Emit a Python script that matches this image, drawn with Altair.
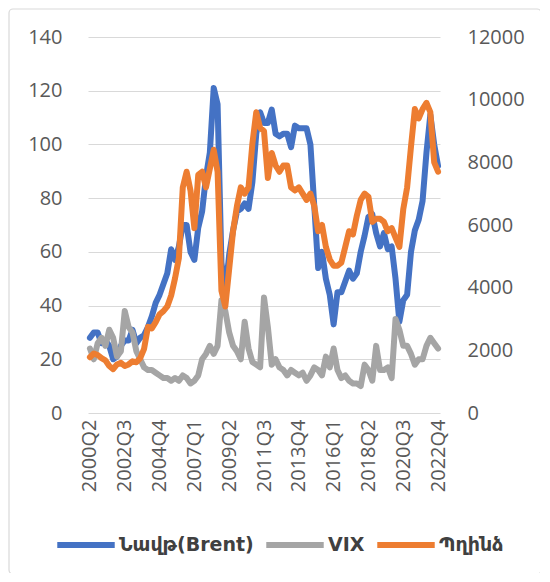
import altair as alt
import pandas as pd

# Categories: quarters 2000Q2 .. 2022Q4
quarters = [f"{y}Q{q}" for y in range(2000, 2023) for q in range(1, 5)][1:]
tick_labels = ["2000Q2", "2002Q3", "2004Q4", "2007Q1", "2009Q2", "2011Q3",
               "2013Q4", "2016Q1", "2018Q2", "2020Q3", "2022Q4"]

series_names = ["Նավթ(Brent)", "VIX", "Պղինձ"]
series_colors = ["#4472C4", "#A5A5A5", "#ED7D31"]

brent = [28, 30, 30,
         26, 27, 25, 20,
         21, 25, 27, 27,
         31, 26, 28, 29,
         32, 36, 41, 44,
         48, 52, 61, 57,
         62, 70, 70, 60,
         57, 69, 75, 88,
         97, 121, 115, 56,
         45, 59, 68, 75,
         76, 78, 76, 86,
         104, 112, 108, 108,
         113, 104, 103, 104,
         104, 99, 107, 106,
         106, 106, 100, 77,
         54, 60, 50, 44,
         33, 45, 45, 49,
         53, 50, 52, 60,
         66, 73, 74, 67,
         62, 67, 61, 62,
         50, 34, 42, 44,
         60, 68, 72, 79,
         97, 111, 100, 92]

vix = [24, 20, 26,
       28, 25, 31, 28,
       21, 23, 38, 32,
       30, 23, 20, 17,
       16, 16, 15, 14,
       13, 13, 12, 13,
       12, 14, 13, 11,
       12, 14, 20, 22,
       25, 22, 25, 42,
       38, 30, 25, 23,
       20, 34, 24, 19,
       18, 17, 43, 32,
       18, 20, 17, 16,
       14, 16, 15, 14,
       15, 12, 14, 17,
       16, 14, 21, 17,
       24, 16, 13, 14,
       12, 11, 11, 10,
       18, 16, 12, 25,
       16, 16, 17, 13,
       35, 31, 25, 25,
       22, 18, 20, 20,
       25, 28, 26, 24]

copper = [1780, 1900, 1850,
          1750, 1680, 1500, 1400,
          1550, 1600, 1500, 1550,
          1650, 1620, 1750, 2050,
          2750, 2700, 2900, 3150,
          3250, 3400, 3750, 4300,
          4950, 7200, 7700, 7100,
          5900, 7600, 7700, 7200,
          7800, 8400, 7700, 3900,
          3400, 4600, 5800, 6600,
          7200, 7000, 7200, 8600,
          9600, 9100, 9000, 7500,
          8300, 7900, 7700, 7900,
          7900, 7200, 7100, 7200,
          7000, 6800, 7000, 6600,
          5800, 6000, 5300, 4900,
          4700, 4700, 4800, 5300,
          5800, 5700, 6300, 6800,
          7000, 6900, 6100, 6200,
          6200, 6100, 5800, 5900,
          5600, 5300, 6500, 7200,
          8500, 9700, 9400, 9700,
          9900, 9600, 8000, 7700]

left_df = pd.concat([
    pd.DataFrame({"q": quarters, "v": brent, "s": series_names[0], "o": 0}),
    pd.DataFrame({"q": quarters, "v": vix, "s": series_names[1], "o": 1}),
])
right_df = pd.DataFrame({"q": quarters, "v": copper, "s": series_names[2], "o": 2})

FONT = "Open Sans"
LBL = "#595959"
FS = 20
W, H = 352, 376

x_enc = alt.X("q:N", sort=quarters, title=None,
              scale=alt.Scale(type="point", padding=0.5),
              axis=alt.Axis(values=tick_labels, labelAngle=270, labelFontSize=FS,
                            labelColor=LBL, labelFont=FONT, ticks=False, tickSize=0,
                            domain=False, grid=False, labelPadding=6))

color_enc = alt.Color("s:N", title=None,
                      scale=alt.Scale(domain=series_names, range=series_colors),
                      legend=alt.Legend(orient="none", legendX=-34, legendY=476,
                                        direction="horizontal", columns=3,
                                        symbolType="stroke", symbolStrokeWidth=6,
                                        symbolSize=3300, labelFontSize=19,
                                        labelFontWeight="bold", labelColor="#404040",
                                        labelFont="DejaVu Sans", labelOffset=1,
                                        columnPadding=0, padding=0))

line_style = dict(strokeWidth=6, strokeCap="round", strokeJoin="round")

left = alt.Chart(left_df).mark_line(**line_style).encode(
    x=x_enc,
    y=alt.Y("v:Q", title=None,
            scale=alt.Scale(domain=[0, 140], nice=False),
            axis=alt.Axis(values=list(range(0, 141, 20)), orient="left",
                          grid=True, gridColor="#D9D9D9", gridWidth=1,
                          domain=False, ticks=False, tickSize=0,
                          labelFontSize=FS, labelColor=LBL, labelFont=FONT,
                          labelPadding=26)),
    color=color_enc,
    order="o:Q",
    detail="s:N",
)

right = alt.Chart(right_df).mark_line(**line_style).encode(
    x=x_enc,
    y=alt.Y("v:Q", title=None,
            scale=alt.Scale(domain=[0, 12000], nice=False),
            axis=alt.Axis(values=list(range(0, 12001, 2000)), orient="right",
                          format="d",
                          grid=False, domain=False, ticks=False, tickSize=0,
                          labelFontSize=FS, labelColor=LBL, labelFont=FONT,
                          labelPadding=27)),
    color=color_enc,
)

border = alt.Chart(alt.Data(values=[{"b": 1}])).mark_rect(
    fill=None, stroke="#D9D9D9", strokeWidth=1.2, cornerRadius=4
).encode(x=alt.value(-79), x2=alt.value(453), y=alt.value(-28), y2=alt.value(537))

chart = alt.layer(border, left, right).resolve_scale(y="independent").properties(
    width=W, height=H,
    autosize=alt.AutoSizeParams(type="none"),
    padding={"left": 80, "top": 29, "right": 100, "bottom": 160},
).configure_view(stroke=None)

chart.save("out.html", embed_options={"renderer": "svg", "actions": False})
